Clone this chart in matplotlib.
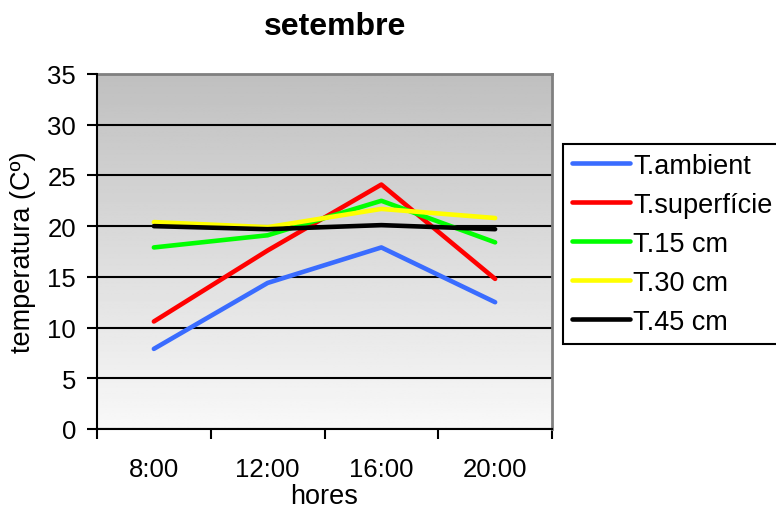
import numpy as np
import matplotlib
matplotlib.use('Agg')
from matplotlib import pyplot as plt
from matplotlib.ticker import FixedLocator

plt.rcParams['font.family'] = ['Liberation Sans', 'DejaVu Sans']

# Temperatures per hour of the day (ºC)
hores = ['8:00', '12:00', '16:00', '20:00']
t_ambient = [7.9, 14.4, 17.9, 12.5]
t_superficie = [10.6, 17.6, 24.1, 14.8]
t_15cm = [17.9, 19.1, 22.5, 18.4]
t_30cm = [20.4, 19.9, 21.7, 20.8]
t_45cm = [20.0, 19.7, 20.1, 19.7]

series = [
    ('T.ambient', t_ambient, '#3a6cff'),
    ('T.superfície', t_superficie, '#ff0000'),
    ('T.15 cm', t_15cm, '#00ff00'),
    ('T.30 cm', t_30cm, '#ffff00'),
    ('T.45 cm', t_45cm, '#000000'),
]

fig = plt.figure(figsize=(7.76, 5.10), dpi=100)
ax = fig.add_axes([97 / 776, 1 - 430 / 510, 455 / 776, 355 / 510])

x = np.arange(len(hores))
ax.set_xlim(-0.5, len(hores) - 0.5)
ax.set_ylim(0, 35)

# vertical grey gradient behind the plot
grad = np.linspace(0.975, 0.75, 256).reshape(-1, 1)
ax.imshow(grad, cmap='gray', vmin=0, vmax=1, aspect='auto',
          extent=(0, 1, 0, 1), transform=ax.transAxes, origin='lower', zorder=0)

ax.set_yticks(np.arange(0, 36, 5))
ax.grid(axis='y', color='black', linewidth=1.5, zorder=1)

for label, vals, col in series:
    ax.plot(x, vals, color=col, linewidth=3.3, label=label, zorder=3,
            solid_capstyle='round')

# labels centred on categories, tick marks on category boundaries
ax.set_xticks(x)
ax.set_xticklabels(hores)
ax.xaxis.set_minor_locator(FixedLocator(np.arange(-0.5, len(hores), 1.0)))
ax.tick_params(axis='x', which='major', length=0, pad=20, labelsize=18.5)
ax.tick_params(axis='x', which='minor', length=7, width=1.5, direction='out')
ax.tick_params(axis='y', length=7, width=1.5, direction='out', pad=8, labelsize=18.5)

for s in ['left', 'bottom']:
    ax.spines[s].set_color('black')
    ax.spines[s].set_linewidth(1.5)
    ax.spines[s].set_zorder(4)
for s in ['top', 'right']:
    ax.spines[s].set_color('#808080')
    ax.spines[s].set_linewidth(2)

ax.set_ylabel('temperatura (Cº)', fontsize=19.5, labelpad=8)
fig.text(324 / 776, 0.0, 'hores', ha='center', va='bottom', fontsize=19.5)
fig.text(335 / 776, 1 - 27 / 510, 'setembre', ha='center', va='center',
         fontsize=23, fontweight='bold')

leg = fig.legend(loc='upper left', bbox_to_anchor=(563 / 776, 1 - 145 / 510),
                 fontsize=19.5, frameon=True, fancybox=False, framealpha=1,
                 edgecolor='black', handlelength=2.15, handletextpad=0.1,
                 labelspacing=0.48, borderpad=0.33, borderaxespad=0)
leg.get_frame().set_linewidth(1.5)

plt.savefig('out.png', dpi=100)
plt.close('all')
